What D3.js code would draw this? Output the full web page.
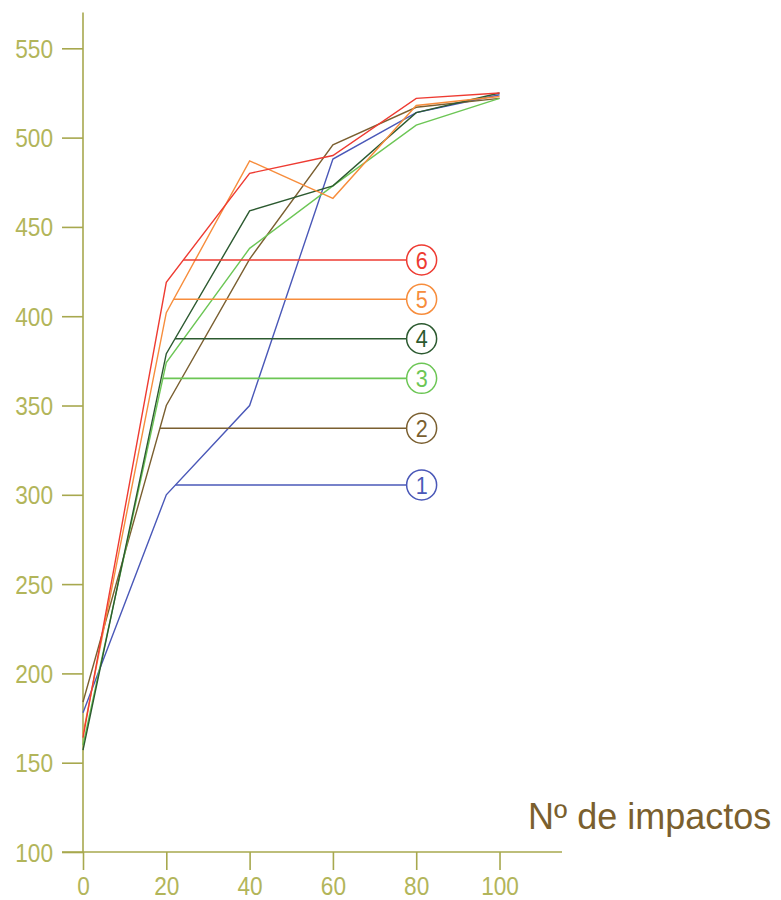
<!DOCTYPE html>
<html>
<head>
<meta charset="utf-8">
<script src="https://cdn.jsdelivr.net/npm/d3@7"></script>
<style>
  html, body { margin: 0; padding: 0; background: #ffffff; }
  svg { display: block; }
</style>
</head>
<body>
<svg id="chart" width="781" height="900"></svg>
<script>
// ---- data ----
const xValues = [0, 20, 40, 60, 80, 100];
const seriesNames = ["1", "2", "3", "4", "5", "6"];
const series1 = [178, 300, 350, 488, 514, 524];
const series2 = [184, 350, 432, 496, 517, 522];
const series3 = [160, 374, 438, 473, 507, 522];
const series4 = [157, 379, 459, 473, 514, 525];
const series5 = [166, 402, 487, 466, 518, 523];
const series6 = [164, 419, 480, 490, 522, 525];
const labelValues = [305.5, 337.3, 365.2, 387.4, 409.5, 431.5];
const yTicks = [100, 150, 200, 250, 300, 350, 400, 450, 500, 550];
const xTicks = [0, 20, 40, 60, 80, 100];
const xTitle = "Nº de impactos";

const colors = ["#4a58b8", "#7a5f30", "#6cc655", "#2c5a30", "#f78d3c", "#ee3b32"];
const allSeries = [series1, series2, series3, series4, series5, series6];

// ---- layout ----
const svg = d3.select("#chart");
const axisColor = "#a7a84e";
const tickTextColor = "#b2b55a";
const font = "'Liberation Sans', Arial, sans-serif";
const digitW = 12.6;

const x = d3.scaleLinear().domain([0, 115]).range([83, 562]);
const y = d3.scaleLinear().domain([100, 570]).range([852, 12.6]);

// Y axis
const yAxis = d3.axisLeft(y).tickValues(yTicks).tickSize(21).tickPadding(9).tickFormat(d3.format("d"));
const gy = svg.append("g").attr("transform", `translate(${x(0)},0)`).call(yAxis);
gy.select(".domain").attr("stroke", axisColor).attr("stroke-width", 1.6).attr("d", `M0,${y(570)}V${y(100)}`);
gy.selectAll(".tick line").attr("stroke", axisColor).attr("stroke-width", 1.6);
gy.selectAll(".tick text")
  .attr("fill", tickTextColor)
  .style("font-family", font).style("font-size", "25px")
  .attr("dy", "0.36em")
  .attr("textLength", d => String(d).length * digitW)
  .attr("lengthAdjust", "spacingAndGlyphs");

// X axis
const xAxis = d3.axisBottom(x).tickValues(xTicks).tickSize(18).tickPadding(7).tickFormat(d3.format("d"));
const gx = svg.append("g").attr("transform", `translate(0,${y(100)})`).call(xAxis);
gx.select(".domain").attr("stroke", axisColor).attr("stroke-width", 1.6).attr("d", `M${x(0) - 21},0H${x(115)}`);
gx.selectAll(".tick line").attr("stroke", axisColor).attr("stroke-width", 1.6);
gx.selectAll(".tick text")
  .attr("fill", tickTextColor)
  .style("font-family", font).style("font-size", "25px")
  .attr("textLength", d => String(d).length * digitW)
  .attr("lengthAdjust", "spacingAndGlyphs");

// X title
svg.append("text")
  .attr("x", 528).attr("y", 829)
  .attr("fill", "#7a5f2e")
  .style("font-family", font)
  .style("font-size", "36px")
  .text(xTitle);

// Lines
const line = d3.line().x((d, i) => x(xValues[i])).y(d => y(d));
allSeries.forEach((s, k) => {
  svg.append("path")
    .datum(s)
    .attr("d", line)
    .attr("fill", "none")
    .attr("stroke", colors[k])
    .attr("stroke-width", 1.4);
});

// Leader lines and circled labels
function crossingX(s, v) {
  for (let i = 0; i < s.length - 1; i++) {
    const a = s[i], b = s[i + 1];
    if ((v - a) * (v - b) <= 0 && a !== b) {
      return xValues[i] + (xValues[i + 1] - xValues[i]) * (v - a) / (b - a);
    }
  }
  return xValues[0];
}
const labelX = 81.3; // circle centre in data units (x scale)
allSeries.forEach((s, k) => {
  const v = labelValues[k];
  const x0 = crossingX(s, v);
  const cy = y(v);
  const cx = x(labelX);
  const r = 15;
  svg.append("line")
    .attr("x1", x(x0)).attr("x2", cx - r)
    .attr("y1", cy).attr("y2", cy)
    .attr("stroke", colors[k]).attr("stroke-width", 1.6);
  svg.append("circle")
    .attr("cx", cx).attr("cy", cy).attr("r", r)
    .attr("fill", "#ffffff")
    .attr("stroke", colors[k]).attr("stroke-width", 1.5);
  svg.append("text")
    .attr("x", cx).attr("y", cy)
    .attr("dy", "0.36em")
    .attr("text-anchor", "middle")
    .attr("fill", colors[k])
    .style("font-family", font)
    .style("font-size", "24px")
    .attr("textLength", 12)
    .attr("lengthAdjust", "spacingAndGlyphs")
    .text(seriesNames[k]);
});
</script>
</body>
</html>
